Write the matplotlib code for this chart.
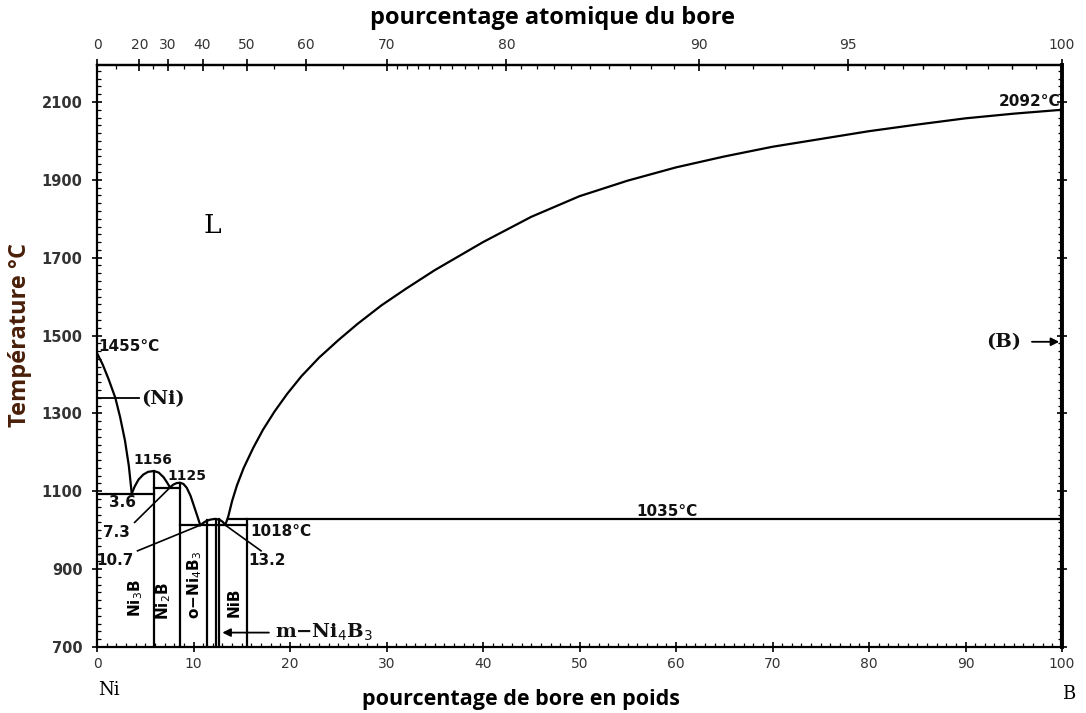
import numpy as np
import matplotlib
matplotlib.use("Agg")
import matplotlib.pyplot as plt
from matplotlib.ticker import MultipleLocator, FixedLocator

# ---------------- data (wt% B, temperature degC) ----------------
liq_ni_x = [0.0, 0.6, 1.2, 1.9, 2.4, 2.9, 3.3, 3.6]
liq_ni_t = [1455, 1425, 1388, 1340, 1290, 1230, 1165, 1094]

dome_ni3b_x = [3.6, 3.9, 4.3, 4.8, 5.3, 5.9, 6.4, 6.9, 7.25, 7.56]
dome_ni3b_t = [1094, 1112, 1130, 1143, 1150, 1152, 1148, 1136, 1123, 1110]

dome_ni2b_x = [7.56, 7.9, 8.25, 8.6, 8.95, 9.3, 9.7, 10.05, 10.4, 10.7]
dome_ni2b_t = [1110, 1117, 1121, 1122, 1119, 1109, 1088, 1062, 1036, 1013]

dome_ni4b3_x = [10.7, 11.2, 11.7, 12.2, 12.7, 13.0, 13.3]
dome_ni4b3_t = [1013, 1022, 1027, 1029, 1027, 1022, 1014]

liq_b_x = [13.3, 13.6, 14.0, 14.5, 15.2, 16.2, 17.2, 18.4, 19.7, 21.2, 23.0, 25.0, 27.0,
           29.5, 32, 35, 40, 45, 50, 55, 60, 65, 70, 75, 80, 85, 90, 95, 100]
liq_b_t = [1014, 1035, 1075, 1115, 1160, 1212, 1258, 1305, 1350, 1396, 1443, 1488, 1530,
           1578, 1620, 1668, 1740, 1805, 1858, 1898, 1932, 1960, 1985, 2005, 2025, 2042,
           2058, 2070, 2080]

# invariant (horizontal) lines: (x_start, x_end, T)
iso_lines = [(0.0, 5.9, 1094), (5.9, 8.6, 1108), (8.6, 15.5, 1013), (13.6, 100.0, 1029)]

# compound lines: (x, T_top)
compounds = [(5.9, 1152), (8.6, 1122), (11.45, 1025), (12.3, 1029), (12.6, 1029), (15.5, 1029)]

y_ticks = [700, 900, 1100, 1300, 1500, 1700, 1900, 2100]
x_ticks = [0, 10, 20, 30, 40, 50, 60, 70, 80, 90, 100]
top_ticks = [0, 20, 30, 40, 50, 60, 70, 80, 90, 95, 100]

M_NI, M_B = 58.69, 10.81


def wt_to_at(w):
    w = np.clip(np.asarray(w, dtype=float), 0.0, 100.0)
    nb = w / M_B
    nn = (100.0 - w) / M_NI
    with np.errstate(divide="ignore", invalid="ignore"):
        r = np.where(nb + nn > 0, nb / (nb + nn) * 100.0, 0.0)
    return r


def at_to_wt(a):
    a = np.clip(np.asarray(a, dtype=float), 0.0, 100.0)
    mb = a * M_B
    mn = (100.0 - a) * M_NI
    with np.errstate(divide="ignore", invalid="ignore"):
        r = np.where(mb + mn > 0, mb / (mb + mn) * 100.0, 0.0)
    return r


fig = plt.figure(figsize=(10.86, 7.13), dpi=100)
ax = fig.add_axes([97 / 1086, (713 - 647) / 713, (1062 - 97) / 1086, (647 - 65) / 713])
ax.set_xlim(0, 100)
ax.set_ylim(700, 2195)

lw = 1.6
k = "black"
ax.plot(liq_ni_x, liq_ni_t, color=k, lw=lw)
ax.plot(dome_ni3b_x, dome_ni3b_t, color=k, lw=lw)
ax.plot(dome_ni2b_x, dome_ni2b_t, color=k, lw=lw)
ax.plot(dome_ni4b3_x, dome_ni4b3_t, color=k, lw=lw)
ax.plot(liq_b_x, liq_b_t, color=k, lw=lw)
for x0, x1, t in iso_lines:
    ax.plot([x0, x1], [t, t], color=k, lw=lw)
for x, t in compounds:
    ax.plot([x, x], [700, t], color=k, lw=lw)
ax.plot([100, 100], [700, 2080], color=k, lw=3)

# ---------------- axes styling ----------------
for s in ax.spines.values():
    s.set_linewidth(1.6)
ax.spines["right"].set_linewidth(2.8)

ax.set_yticks(y_ticks)
ax.set_xticks(x_ticks)
ax.yaxis.set_minor_locator(MultipleLocator(20))
ax.xaxis.set_minor_locator(MultipleLocator(1))
ax.tick_params(axis="both", which="major", direction="inout", length=7, width=1.2,
               labelcolor="#333333")
ax.tick_params(axis="x", which="major", labelsize=10, pad=4)
ax.tick_params(axis="y", which="major", labelsize=10.5, pad=7)
ax.tick_params(axis="both", which="minor", direction="in", length=3, width=0.9)
ax.tick_params(axis="y", which="both", right=True)
for lab in ax.get_yticklabels():
    lab.set_fontweight("bold")

top = ax.secondary_xaxis("top", functions=(wt_to_at, at_to_wt))
top.set_xticks(top_ticks)
top_minor = [10, 25, 35, 45, 55, 65] + list(range(71, 100)) + [95.5, 96, 96.5, 97, 97.5, 98, 98.5, 99, 99.5]
top.xaxis.set_minor_locator(FixedLocator(top_minor))
top.tick_params(which="major", direction="inout", length=8, width=1.2, labelsize=10,
                labelcolor="#333333", pad=5)
top.tick_params(which="minor", direction="in", length=3, width=0.9)
top.spines["top"].set_linewidth(1.6)

# ---------------- labels ----------------
fig.text(552 / 1086, 1 - 18 / 713, "pourcentage atomique du bore", ha="center", va="center",
         fontsize=17, fontweight="bold", family="Open Sans")
fig.text(521 / 1086, 1 - 699 / 713, "pourcentage de bore en poids", ha="center", va="center",
         fontsize=15.5, fontweight="bold", family="Open Sans")
fig.text(20 / 1086, 1 - 335 / 713, "Température °C", ha="center", va="center", rotation=90,
         fontsize=17, fontweight="bold", family="Open Sans", color="#4a1f0a")
fig.text(109 / 1086, 1 - 690 / 713, "Ni", ha="center", va="center", fontsize=13,
         family="DejaVu Serif")
fig.text(1069 / 1086, 1 - 694 / 713, "B", ha="center", va="center", fontsize=13,
         family="DejaVu Serif")

bt = dict(fontsize=11, fontweight="bold", color="#111111")
bs = dict(fontsize=10, fontweight="bold", color="#111111")
st = dict(fontweight="bold", family="DejaVu Serif", color="#111111")
ax.text(11.9, 1784, "L", fontsize=19, family="DejaVu Serif", ha="center", va="center")
ax.text(0.15, 1471, "1455°C", ha="left", va="center", **bt)
ax.plot([0, 4.4], [1340, 1340], color=k, lw=1.3)
ax.text(4.6, 1336, "(Ni)", ha="left", va="center", fontsize=14, **st)
ax.text(5.8, 1180, "1156", ha="center", va="center", **bs)
ax.text(9.3, 1140, "1125", ha="center", va="center", **bs)
ax.text(2.6, 1070, "3.6", ha="center", va="center", **bt)
ax.text(2.0, 994, "7.3", ha="center", va="center", **bt)
ax.plot([3.9, 7.5], [1020, 1108], color=k, lw=1.2)
ax.text(1.9, 921, "10.7", ha="center", va="center", **bt)
ax.plot([4.2, 10.7], [947, 1013], color=k, lw=1.2)
ax.text(17.6, 921, "13.2", ha="center", va="center", **bt)
ax.plot([17.0, 13.3], [947, 1013], color=k, lw=1.2)
ax.text(15.9, 996, "1018°C", ha="left", va="center", **bt)
ax.text(59.1, 1048, "1035°C", ha="center", va="center", **bt)
ax.text(99.8, 2100, "2092°C", ha="right", va="center", **bt)
ax.text(94.0, 1482, "(B)", ha="center", va="center", fontsize=14, **st)
ax.annotate("", xy=(100, 1484), xytext=(96.6, 1484),
            arrowprops=dict(arrowstyle="-|>", color=k, lw=1.3, mutation_scale=12))
ax.text(18.4, 737, "m−Ni$_4$B$_3$", ha="left", va="center", fontsize=14, **st)
ax.annotate("", xy=(12.7, 737), xytext=(18.1, 737),
            arrowprops=dict(arrowstyle="-|>", color=k, lw=1.3, mutation_scale=12))

rt = dict(rotation=90, ha="center", va="center", fontsize=11, fontweight="bold")
ax.text(4.0, 826, "Ni$_3$B", **rt)
ax.text(6.95, 818, "Ni$_2$B", **rt)
ax.text(10.1, 860, "o−Ni$_4$B$_3$", **rt)
ax.text(14.2, 815, "NiB", **rt)

fig.savefig("out.png", dpi=100)
